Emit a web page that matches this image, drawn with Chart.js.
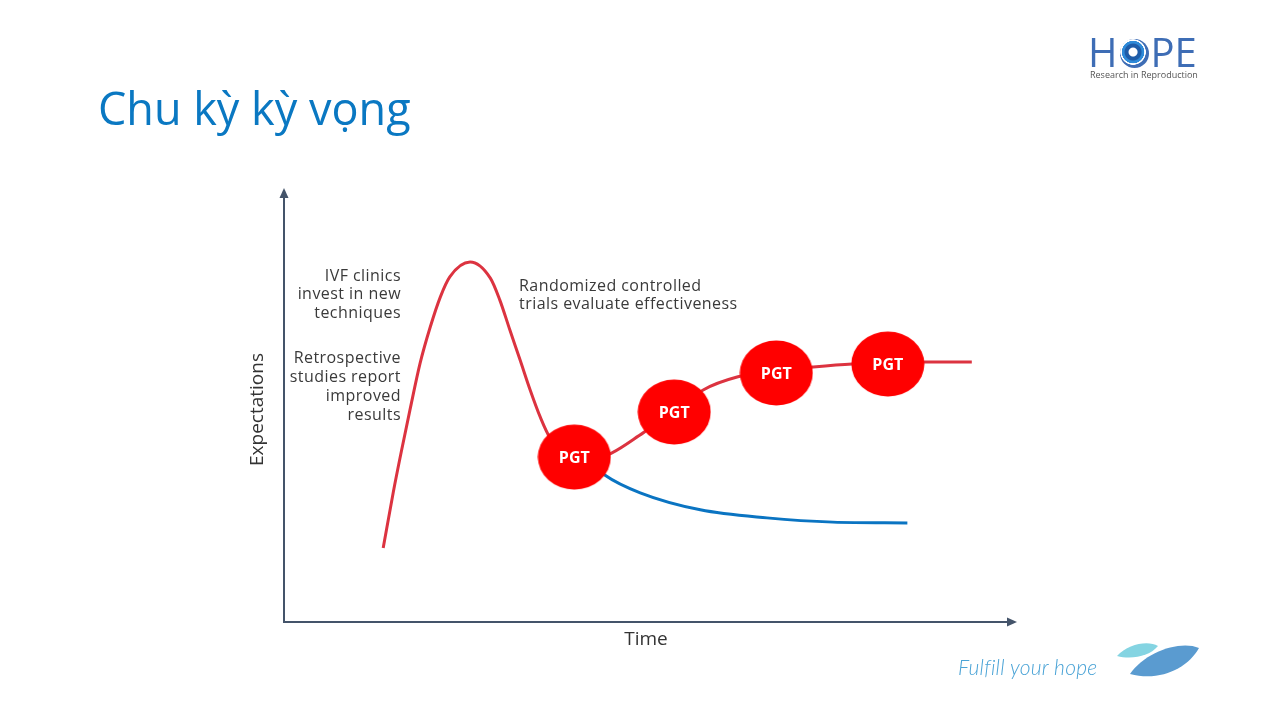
<!DOCTYPE html>
<html><head><meta charset="utf-8">
<script src="https://cdn.jsdelivr.net/npm/chart.js@4.4.0/dist/chart.umd.min.js"></script>
<style>
html,body{margin:0;padding:0;background:#fff;width:1280px;height:720px;overflow:hidden;position:relative;font-family:'Open Sans',sans-serif}
#wrap{position:absolute;left:0;top:0;width:1280px;height:720px}
.t{position:absolute;white-space:nowrap}
.ann{font-size:16px;line-height:18.7px;color:#3a3a3a;letter-spacing:0.45px}
</style></head><body>
<div id="wrap"><canvas id="c" width="1280" height="720"></canvas></div>

<div class="t" style="left:98px;top:85px;font-size:45px;line-height:45px;color:#0A78C2">Chu kỳ kỳ vọng</div>

<div class="t ann" style="right:879px;top:265.5px;text-align:right">IVF clinics<br>invest in new<br>techniques</div>
<div class="t ann" style="right:879px;top:348.3px;text-align:right;line-height:19px">Retrospective<br>studies report<br>improved<br>results</div>
<div class="t ann" style="left:519px;top:275.5px">Randomized controlled<br>trials evaluate effectiveness</div>

<!-- logo -->
<div class="t" style="left:1088px;top:29px;font-size:40px;line-height:46px;color:#3E6DB5;font-family:'Liberation Sans Narrow','Open Sans',sans-serif">H<span style="display:inline-block;width:29px;height:29px;border-radius:50%;vertical-align:-1px;margin:0 2px;background:radial-gradient(circle at 45% 45%,#fff 0 4px,#1E5CA8 5px 8px,#2E8AD8 9px 11px,#fff 11.5px 12.5px,#3E6DB5 13px)"></span>PE</div>
<div class="t" style="left:1090px;top:69px;font-size:9px;line-height:12px;color:#555">Research in Reproduction</div>

<!-- tagline -->
<div class="t" style="left:958px;top:655px;font-size:21px;line-height:24px;color:#4AA3D6;font-style:italic;font-family:'Lato',sans-serif;font-weight:300;letter-spacing:0.25px">Fulfill your hope</div>
<svg class="t" style="left:1110px;top:634px" width="100" height="50" viewBox="0 0 100 50">
  <path d="M7 22 C 18 10, 38 6, 48 12 C 40 22, 22 26, 7 22 Z" fill="#84D4E2"/>
  <path d="M20 40 C 35 18, 70 6, 89 14 C 78 34, 50 48, 20 40 Z" fill="#5A9BD0"/>
</svg>

<script>
// ---- data ----
const redX  = [13.7,15.1,16.3,17.4,18.8,20.2,21.6,22.9,25.7,28.5,29.8,31.2,32.6,34.0,35.4,36.7,39.5,42.3,45.3,49.6,53.9,57.9,62.7,68.0,73.1,78.5,83.4,88.5,95.0];
const redY  = [17.4,30.6,40.9,49.9,60.9,69.4,76.5,81.2,84.7,80.9,75.8,68.7,61.7,54.6,48.2,43.5,39.5,38.1,39.8,44.5,49.4,54.6,57.7,59.1,60.0,60.7,60.9,61.2,61.2];
const blueX = [42.3,44.3,49.2,57.5,66.7,75.8,86.1];
const blueY = [37.7,34.6,30.4,26.4,24.5,23.5,23.3];
const pgtX  = [40.1,53.9,68.0,83.4];
const pgtY  = [38.8,49.4,58.6,60.7];
const pgtLabels = ['PGT','PGT','PGT','PGT'];
const xTitle = 'Time';
const yTitle = 'Expectations';

const zip = (xs, ys) => xs.map((x, i) => ({x, y: ys[i]}));
const AXIS = '#44546A';

function ellipseImg(w, h, color) {
  const c = document.createElement('canvas');
  c.width = w; c.height = h;
  const g = c.getContext('2d');
  g.fillStyle = color;
  g.beginPath();
  g.ellipse(w/2, h/2, w/2 - 0.5, h/2 - 0.5, 0, 0, Math.PI*2);
  g.fill();
  return c;
}
const ell = ellipseImg(74, 66, '#FF0000');

const deco = {
  id: 'deco',
  afterDatasetsDraw(chart) {
    const ctx = chart.ctx;
    const meta = chart.getDatasetMeta(0);
    ctx.save();
    ctx.fillStyle = '#fff';
    ctx.font = 'bold 16px "Open Sans", sans-serif';
    ctx.textAlign = 'center';
    ctx.textBaseline = 'middle';
    meta.data.forEach((p, i) => ctx.fillText(pgtLabels[i], p.x, p.y + 1));
    ctx.restore();
  },
  afterDraw(chart) {
    const ctx = chart.ctx;
    const {left, right, top, bottom} = chart.chartArea;
    ctx.save();
    ctx.fillStyle = AXIS;
    ctx.beginPath();
    ctx.moveTo(left, top - 9);
    ctx.lineTo(left - 4.5, top + 1);
    ctx.lineTo(left + 4.5, top + 1);
    ctx.closePath();
    ctx.fill();
    ctx.beginPath();
    ctx.moveTo(right + 9, bottom);
    ctx.lineTo(right - 1, bottom - 4.5);
    ctx.lineTo(right - 1, bottom + 4.5);
    ctx.closePath();
    ctx.fill();
    ctx.restore();
  }
};

new Chart(document.getElementById('c'), {
  type: 'scatter',
  data: {
    datasets: [
      { data: zip(pgtX, pgtY), pointStyle: ell, pointRadius: 10, showLine: false, order: 0 },
      { data: zip(redX, redY), showLine: true, borderColor: '#DC3340', borderWidth: 3, pointRadius: 0, cubicInterpolationMode: 'monotone', order: 1 },
      { data: zip(blueX, blueY), showLine: true, borderColor: '#0A74C2', borderWidth: 3, pointRadius: 0, cubicInterpolationMode: 'monotone', order: 2 }
    ]
  },
  options: {
    responsive: false,
    animation: false,
    events: [],
    layout: { padding: { top: 197, right: 272, left: 246.6, bottom: 69.2 } },
    plugins: { legend: { display: false }, tooltip: { enabled: false } },
    scales: {
      x: {
        type: 'linear', min: 0, max: 100,
        ticks: { display: false },
        grid: { display: false, drawTicks: false },
        border: { display: true, color: AXIS, width: 2 },
        title: { display: true, text: xTitle, color: '#333', font: { family: 'Open Sans', size: 19 }, padding: { top: 6, bottom: 0 } }
      },
      y: {
        type: 'linear', min: 0, max: 100,
        ticks: { display: false },
        grid: { display: false, drawTicks: false },
        border: { display: true, color: AXIS, width: 2 },
        title: { display: true, text: yTitle, color: '#333', font: { family: 'Open Sans', size: 19 }, padding: { top: 0, bottom: 14.6 } }
      }
    }
  },
  plugins: [deco]
});
</script>
</body></html>
